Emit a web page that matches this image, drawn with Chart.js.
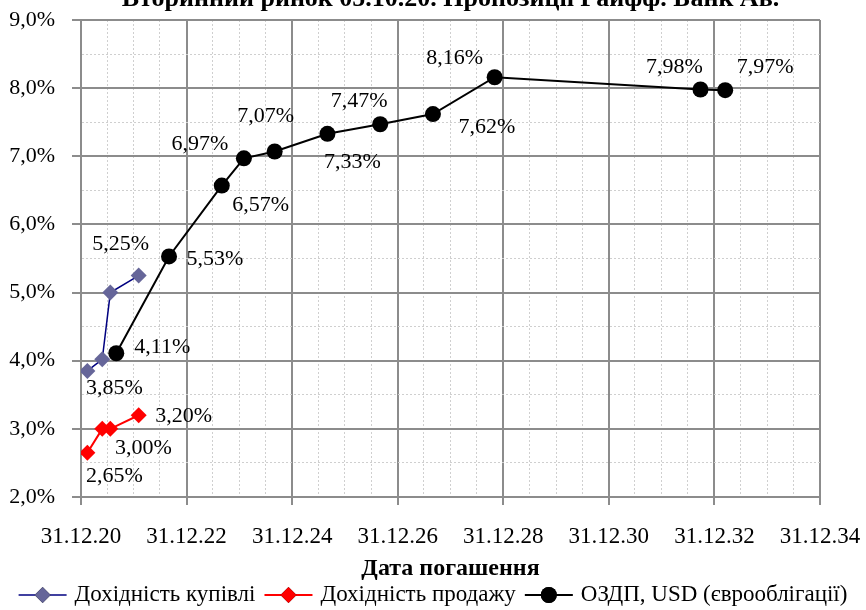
<!DOCTYPE html>
<html>
<head>
<meta charset="utf-8">
<title>Вторинний ринок 05.10.20</title>
<script src="https://cdn.jsdelivr.net/npm/chart.js@4.4.0/dist/chart.umd.min.js"></script>
<style>
    html, body { margin: 0; padding: 0; background: #ffffff; }
    canvas { display: block; }
</style>
</head>
<body>
<canvas id="yieldChart" width="866" height="610"></canvas>
<script>

// =====================================
// Data
// =====================================

const chartTitle = "Вторинний ринок 05.10.20. Пропозиції Райфф. Банк Ав.";
const xAxisTitle = "Дата погашення";
const seriesNames = ["Дохідність купівлі", "Дохідність продажу", "ОЗДП, USD (єврооблігації)"];

// domestic bonds (buy / sell quotes share maturities)
const domesticDates = ["2021-02-13", "2021-05-27", "2021-07-22", "2022-02-03"];
const buyYields = [3.85, 4.02, 5.00, 5.25];
const sellYields = [2.65, 3.00, 3.00, 3.20];

// eurobonds
const euroDates = [
    "2021-09-01", "2022-09-01", "2023-09-01", "2024-02-01", "2024-09-01", "2025-09-01",
    "2026-09-01", "2027-09-01", "2028-11-01", "2032-09-25", "2033-03-15"
];
const euroYields = [4.11, 5.53, 6.57, 6.97, 7.07, 7.33, 7.47, 7.62, 8.16, 7.98, 7.97];

// axis ticks
const xFirstYear = 2020;
const xLastYear = 2034;
const xLabelYears = [2020, 2022, 2024, 2026, 2028, 2030, 2032, 2034];
const yMin = 2;
const yMax = 9;
const yStep = 0.5;

// =====================================
// Style
// =====================================

const FONT = "'Liberation Serif', 'Times New Roman', serif";
const MAJOR_GRID = "#8c8c8c";
const MINOR_GRID = "#cfcfcf";

// label offsets from the point centre (null = no label)
const buyLabelOffsets = [[27, 17], null, null, [-18, -31]];
const sellLabelOffsets = [[27, 24], null, [33, 19], [45, 1]];
const euroLabelOffsets = [
    [46, -6], [46, 3], [39, 20], [-44, -14], [-9, -35], [25, 28],
    [-21, -23], [54, 13], [-40, -19], [-26, -22], [40, -23]
];

const toTime = s => Date.parse(s);
const points = (dates, values) => dates.map((d, i) => ({ x: toTime(d), y: values[i] }));
const pct = v => v.toFixed(2).replace(".", ",") + "%";

// =====================================
// Plugins
// =====================================

const titlePlugin = {
    id: "topTitle",
    afterDraw(chart) {
        const { ctx, chartArea } = chart;
        ctx.save();
        ctx.font = "bold 26px " + FONT;
        ctx.fillStyle = "#000";
        ctx.textAlign = "center";
        ctx.textBaseline = "alphabetic";
        ctx.fillText(chartTitle, (chartArea.left + chartArea.right) / 2, 6);
        ctx.restore();
    }
};

const pointLabelPlugin = {
    id: "pointLabels",
    afterDatasetsDraw(chart) {
        const { ctx } = chart;
        ctx.save();
        ctx.font = "22px " + FONT;
        ctx.fillStyle = "#000";
        ctx.textAlign = "center";
        ctx.textBaseline = "middle";
        chart.data.datasets.forEach((ds, i) => {
            const meta = chart.getDatasetMeta(i);
            meta.data.forEach((el, j) => {
                const off = ds.labelOffsets[j];
                if (!off) return;
                ctx.fillText(pct(ds.data[j].y), el.x + off[0], el.y + off[1]);
            });
        });
        ctx.restore();
    }
};

const legendPlugin = {
    id: "bottomLegend",
    afterDraw(chart) {
        const { ctx } = chart;
        const lineLen = 48, gapText = 8, gapItem = 9, y = 595;
        ctx.save();
        ctx.font = "23px " + FONT;
        const items = chart.data.datasets.map(ds => ({ ds, w: ctx.measureText(ds.label).width }));
        const total = items.reduce((s, it) => s + lineLen + gapText + it.w, 0) + gapItem * (items.length - 1);
        let x = (chart.width - total) / 2;
        items.forEach(({ ds, w }) => {
            ctx.strokeStyle = ds.borderColor;
            ctx.lineWidth = ds.borderWidth;
            ctx.beginPath();
            ctx.moveTo(x, y);
            ctx.lineTo(x + lineLen, y);
            ctx.stroke();
            Chart.helpers.drawPoint(ctx, {
                pointStyle: ds.pointStyle,
                radius: ds.pointRadius,
                borderWidth: 0,
                rotation: 0
            }, x + lineLen / 2, y);
            ctx.fillStyle = ds.pointBackgroundColor;
            ctx.fill();
            ctx.fillStyle = "#000";
            ctx.textAlign = "left";
            ctx.textBaseline = "middle";
            ctx.fillText(ds.label, x + lineLen + gapText, y);
            x += lineLen + gapText + w + gapItem;
        });
        ctx.restore();
    }
};

// =====================================
// Chart
// =====================================

const isMajorX = tick => tick && tick.isMajor;
const isMajorY = tick => tick && Number.isInteger(tick.value);

const ctx = document.getElementById("yieldChart").getContext("2d");

new Chart(ctx, {
    type: "line",
    data: {
        datasets: [
            {
                label: seriesNames[0],
                data: points(domesticDates, buyYields),
                labelOffsets: buyLabelOffsets,
                borderColor: "#000080",
                borderWidth: 1.5,
                pointStyle: "rectRot",
                pointRadius: 8,
                pointBackgroundColor: "#666699",
                pointBorderWidth: 0,
                order: 2
            },
            {
                label: seriesNames[1],
                data: points(domesticDates, sellYields),
                labelOffsets: sellLabelOffsets,
                borderColor: "#ff0000",
                borderWidth: 2,
                pointStyle: "rectRot",
                pointRadius: 8,
                pointBackgroundColor: "#ff0000",
                pointBorderWidth: 0,
                order: 1
            },
            {
                label: seriesNames[2],
                data: points(euroDates, euroYields),
                labelOffsets: euroLabelOffsets,
                borderColor: "#000000",
                borderWidth: 2,
                pointStyle: "circle",
                pointRadius: 8,
                pointBackgroundColor: "#000000",
                pointBorderWidth: 0,
                order: 0
            }
        ]
    },
    options: {
        responsive: false,
        animation: false,
        layout: {
            autoPadding: false,
            padding: { top: 20, right: 46, bottom: 0, left: 0 }
        },
        elements: {
            line: { tension: 0, fill: false }
        },
        plugins: {
            legend: { display: false },
            title: { display: false },
            tooltip: { enabled: false }
        },
        scales: {
            x: {
                type: "linear",
                min: Date.UTC(xFirstYear, 11, 31),
                max: Date.UTC(xLastYear, 11, 31),
                afterBuildTicks(scale) {
                    const ticks = [];
                    for (let y = xFirstYear; y <= xLastYear; y++) {
                        ticks.push({ value: Date.UTC(y, 11, 31), isMajor: xLabelYears.includes(y) });
                        if (y < xLastYear) ticks.push({ value: Date.UTC(y + 1, 5, 30), isMajor: false });
                    }
                    scale.ticks = ticks;
                },
                afterFit(scale) {
                    scale.height = 113;
                    scale.paddingLeft = 0;
                    scale.paddingRight = 0;
                },
                ticks: {
                    autoSkip: false,
                    maxRotation: 0,
                    padding: 18,
                    color: "#000",
                    font: { family: FONT, size: 23 },
                    callback(value, index, ticks) {
                        if (!ticks[index].isMajor) return "";
                        const d = new Date(value);
                        return "31.12." + String(d.getUTCFullYear()).slice(2);
                    }
                },
                grid: {
                    color: c => isMajorX(c.tick) ? MAJOR_GRID : MINOR_GRID,
                    lineWidth: c => isMajorX(c.tick) ? 2 : 1,
                    tickColor: c => isMajorX(c.tick) ? MAJOR_GRID : "rgba(0,0,0,0)",
                    tickLength: 8,
                    tickWidth: 2
                },
                border: {
                    color: MAJOR_GRID,
                    width: 2,
                    dash: c => (c.tick && !isMajorX(c.tick)) ? [2, 2] : []
                },
                title: {
                    display: true,
                    text: xAxisTitle,
                    color: "#000",
                    font: { family: FONT, size: 24, weight: "bold" },
                    padding: { top: 0, bottom: 27 }
                }
            },
            y: {
                min: yMin,
                max: yMax,
                afterFit(scale) {
                    scale.width = 81;
                    scale.paddingTop = 0;
                    scale.paddingBottom = 0;
                },
                ticks: {
                    stepSize: yStep,
                    autoSkip: false,
                    padding: 17,
                    color: "#000",
                    font: { family: FONT, size: 22 },
                    callback: v => Number.isInteger(v) ? v.toFixed(1).replace(".", ",") + "%" : ""
                },
                grid: {
                    color: c => isMajorY(c.tick) ? MAJOR_GRID : MINOR_GRID,
                    lineWidth: c => isMajorY(c.tick) ? 2 : 1,
                    tickColor: c => isMajorY(c.tick) ? MAJOR_GRID : "rgba(0,0,0,0)",
                    tickLength: 9,
                    tickWidth: 2
                },
                border: {
                    color: MAJOR_GRID,
                    width: 2,
                    dash: c => (c.tick && !isMajorY(c.tick)) ? [2, 2] : []
                }
            }
        }
    },
    plugins: [titlePlugin, pointLabelPlugin, legendPlugin]
});

</script>
</body>
</html>
